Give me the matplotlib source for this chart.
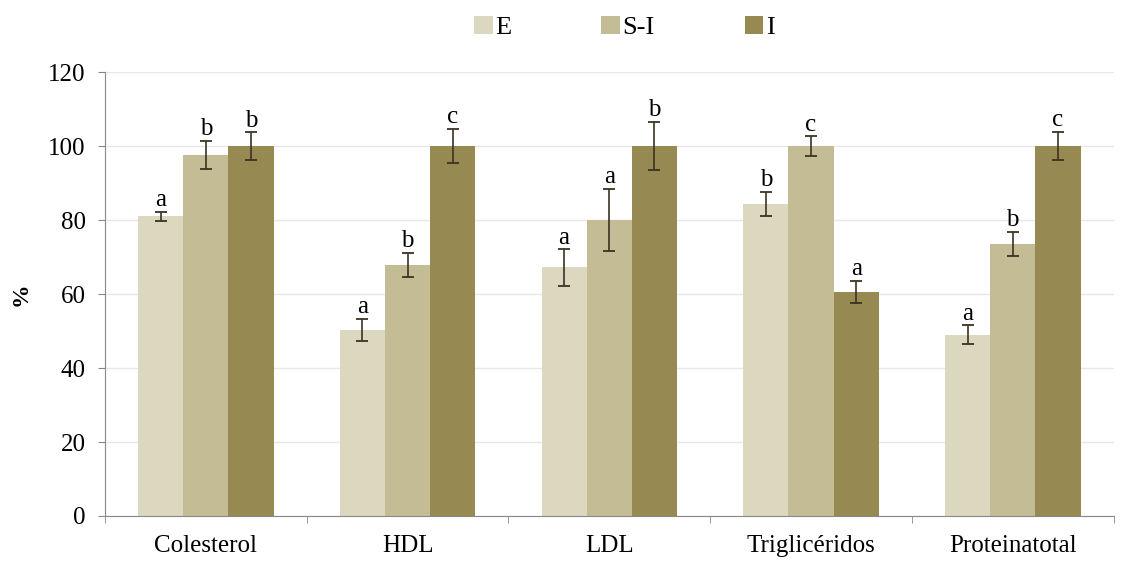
import numpy as np
import matplotlib.pyplot as plt

plt.rcParams['font.family'] = ['Liberation Serif', 'DejaVu Serif']

categories = ['Colesterol', 'HDL', 'LDL', 'Triglicéridos', 'Proteinatotal']
series = ['E', 'S-I', 'I']
values = {
    'E':   [81.0, 50.3, 67.2, 84.3, 49.0],
    'S-I': [97.6, 67.8, 80.0, 100.0, 73.5],
    'I':   [100.0, 100.0, 100.0, 60.6, 100.0],
}
errors = {
    'E':   [1.3, 3.0, 4.9, 3.3, 2.5],
    'S-I': [3.9, 3.3, 8.4, 2.6, 3.3],
    'I':   [3.7, 4.7, 6.6, 2.9, 3.9],
}
letters = {
    'E':   ['a', 'a', 'a', 'b', 'a'],
    'S-I': ['b', 'b', 'a', 'c', 'b'],
    'I':   ['b', 'c', 'b', 'a', 'c'],
}
colors = {'E': '#dcd7bf', 'S-I': '#c4bc94', 'I': '#968a52'}

fig = plt.figure(figsize=(11.41, 5.63), dpi=100)
ax = fig.add_axes([0.092, 0.0835, 0.884, 0.7885])

x = np.arange(len(categories))
w = 0.224
for i, s in enumerate(series):
    pos = x + (i - 1) * w
    ax.bar(pos, values[s], w, color=colors[s], label=s, zorder=2)
    ax.errorbar(pos, values[s], yerr=errors[s], fmt='none', ecolor='#3b3322',
                elinewidth=1.2, capsize=4, capthick=1.3, zorder=3)
    for px, v, e, t in zip(pos, values[s], errors[s], letters[s]):
        ax.text(px, v + e + 0.2, t, ha='center', va='bottom', fontsize=18)

ax.set_xlim(-0.5, len(categories) - 0.5)
ax.set_ylim(0, 120)
ax.set_yticks(np.arange(0, 121, 20))
ax.tick_params(axis='y', labelsize=18, length=5, color='#888888', pad=9)
ax.set_xticks(x)
ax.set_xticklabels(categories, fontsize=18)
ax.tick_params(axis='x', length=0, pad=14)
ax.set_xticks(np.arange(-0.5, len(categories), 1), minor=True)
ax.tick_params(axis='x', which='minor', length=5, color='#888888')
ax.grid(axis='y', color='#e8e8e8', linewidth=1, zorder=0)
ax.set_axisbelow(True)
for sp in ['top', 'right']:
    ax.spines[sp].set_visible(False)
for sp in ['left', 'bottom']:
    ax.spines[sp].set_color('#888888')
ax.set_ylabel('%', fontsize=17, fontweight='bold', labelpad=12)

ax.legend(loc='upper center', bbox_to_anchor=(0.515, 1.18), ncol=3, frameon=False,
          fontsize=19, handlelength=0.7, handleheight=0.7, handletextpad=0.1,
          columnspacing=3.4)

fig.savefig('out.png', dpi=100)
